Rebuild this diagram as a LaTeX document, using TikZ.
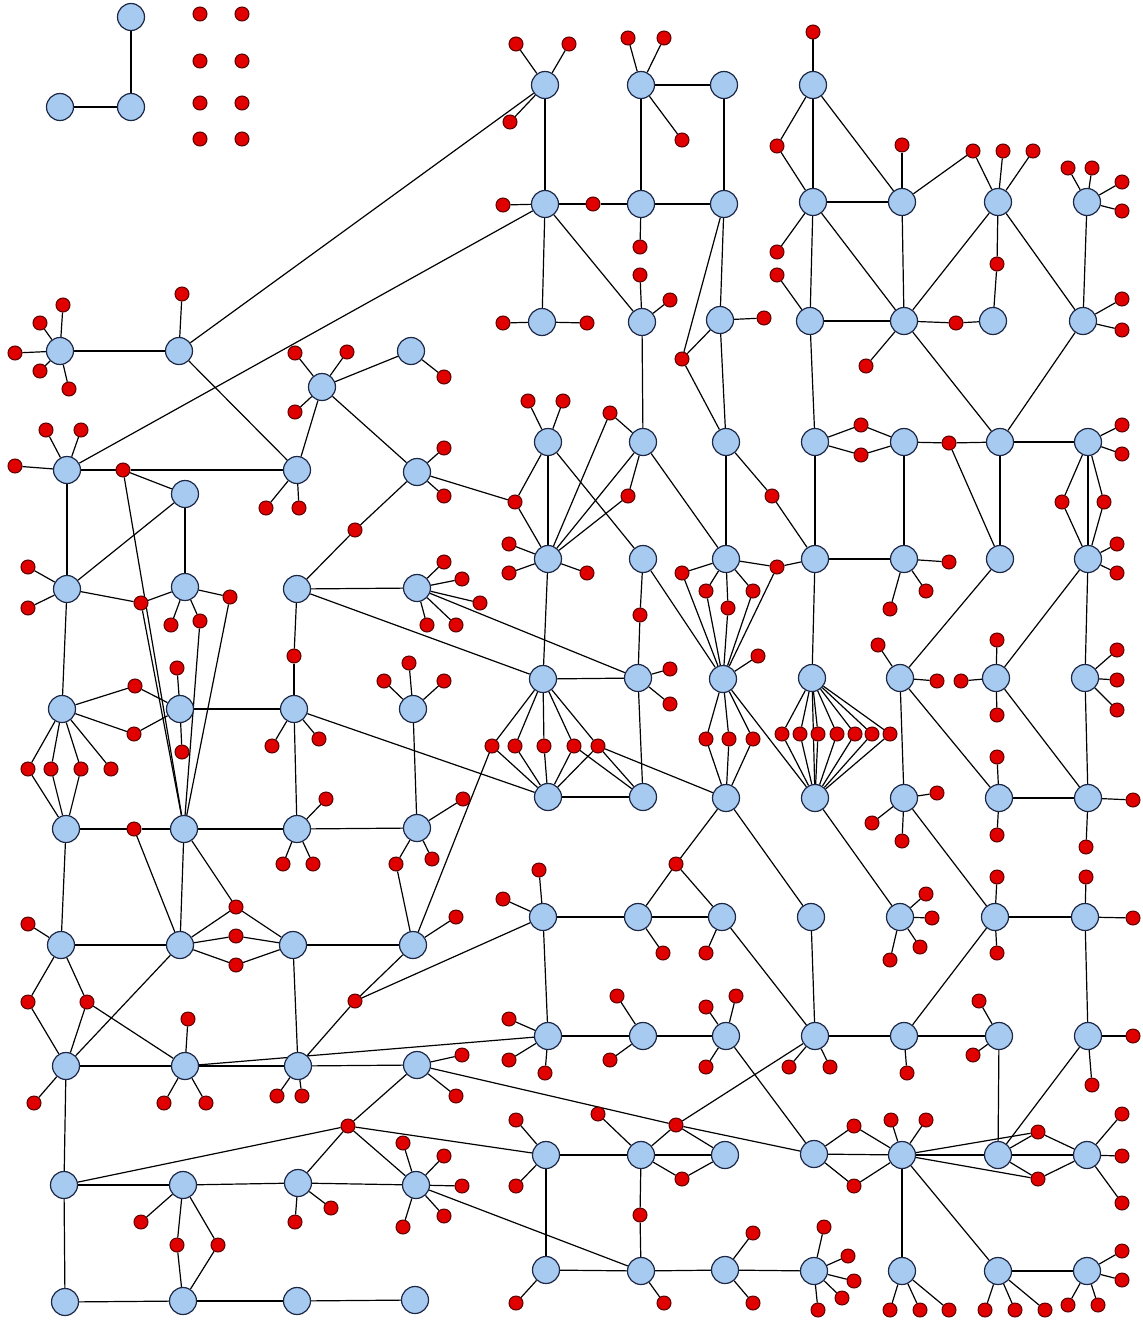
\documentclass[tikz,border=0pt]{standalone}
\definecolor{bfill}{RGB}{166,202,240}
\definecolor{bnd}{RGB}{30,40,70}
\definecolor{rfill}{RGB}{225,0,0}
\definecolor{rnd}{RGB}{90,0,0}
\pgfdeclarelayer{back}
\pgfdeclarelayer{bg}
\pgfsetlayers{back,bg,main}
\tikzset{
 bn/.style={circle,draw=bnd,fill=bfill,line width=0.6pt,minimum size=13.5pt,inner sep=0pt},
 rn/.style={circle,draw=rnd,fill=rfill,line width=0.5pt,minimum size=7pt,inner sep=0pt},
 ed/.style={draw=black,line width=0.6pt}
}
\newcommand\B[3]{\node[bn] (#1) at (#2,#3) {};}
\newcommand\R[3]{\node[rn] (#1) at (#2,#3) {};}
\newcommand\lv[2]{\foreach \x/\y in {#2}{\node[rn] (#1-\x-\y) at (\x,\y) {};
  \begin{pgfonlayer}{bg}\draw[ed] (#1) -- (#1-\x-\y);\end{pgfonlayer}}}
\begin{document}
\begin{tikzpicture}[x=0.5pt,y=-0.5pt]
\begin{pgfonlayer}{back}
\fill[white] (0,0) rectangle (1142,1322);
\end{pgfonlayer}
\useasboundingbox (0,0) rectangle (1142,1322);
% ---------- blue nodes ----------
\B{b1}{131}{17} \B{b2}{131}{107} \B{b3}{60}{107}
\B{La1}{60}{351} \B{Lb1}{179}{351} \B{Lc1}{322}{387} \B{Ld1}{411}{351}
\B{La2}{67}{470} \B{Lb2}{185}{494} \B{Lc2}{297}{470} \B{Ld2}{417}{472}
\B{La3}{67}{589} \B{Lb3}{185}{587} \B{Lc3}{297}{589} \B{Ld3}{417}{588}
\B{La4}{62}{709} \B{Lb4}{180}{709} \B{Lc4}{294}{709} \B{Ld4}{413}{709}
\B{La5}{66}{829} \B{Lb5}{184}{829} \B{Lc5}{297}{829} \B{Ld5}{417}{828}
\B{La6}{61}{945} \B{Lb6}{180}{945} \B{Lc6}{293}{945} \B{Ld6}{413}{945}
\B{La7}{66}{1066} \B{Lb7}{185}{1066} \B{Lc7}{298}{1066} \B{Ld7}{417}{1065}
\B{La8}{64}{1185} \B{Lb8}{183}{1185} \B{Lc8}{298}{1183} \B{Ld8}{416}{1185}
\B{La9}{65}{1302} \B{Lb9}{183}{1301} \B{Lc9}{297}{1301} \B{Ld9}{415}{1300}
\B{Re1}{545}{85} \B{Rf1}{641}{85} \B{Rg1}{724}{85} \B{Rh1}{813}{85}
\B{Re2}{545}{204} \B{Rf2}{641}{204} \B{Rg2}{724}{204} \B{Rh2}{813}{202} \B{Ri2}{902}{202} \B{Rj2}{998}{202} \B{Rk2}{1087}{202}
\B{Re3}{542}{322} \B{Rf3}{642}{322} \B{Rg3}{720}{320} \B{Rh3}{810}{321} \B{Ri3}{904}{321} \B{Rj3}{993}{321} \B{Rk3}{1083}{321}
\B{Re4}{548}{442} \B{Rf4}{643}{442} \B{Rg4}{726}{442} \B{Rh4}{815}{442} \B{Ri4}{904}{442} \B{Rj4}{1000}{442} \B{Rk4}{1088}{442}
\B{Re5}{548}{559} \B{Rf5}{643}{559} \B{Rg5}{726}{559} \B{Rh5}{815}{559} \B{Ri5}{904}{559} \B{Rj5}{1000}{559} \B{Rk5}{1088}{559}
\B{Re6}{543}{679} \B{Rf6}{638}{678} \B{Rg6}{723}{679} \B{Rh6}{812}{678} \B{Ri6}{900}{678} \B{Rj6}{996}{678} \B{Rk6}{1085}{678}
\B{Re7}{548}{797} \B{Rf7}{643}{797} \B{Rg7}{726}{798} \B{Rh7}{815}{798} \B{Ri7}{904}{798} \B{Rj7}{999}{798} \B{Rk7}{1088}{798}
\B{Re8}{543}{917} \B{Rf8}{638}{917} \B{Rg8}{722}{917} \B{Rh8}{811}{917} \B{Ri8}{900}{917} \B{Rj8}{995}{917} \B{Rk8}{1085}{917}
\B{Re9}{548}{1036} \B{Rf9}{643}{1036} \B{Rg9}{726}{1036} \B{Rh9}{815}{1036} \B{Ri9}{904}{1036} \B{Rj9}{999}{1036} \B{Rk9}{1088}{1036}
\B{Re10}{546}{1155} \B{Rf10}{641}{1155} \B{Rg10}{725}{1155} \B{Rh10}{814}{1154} \B{Ri10}{902}{1155} \B{Rj10}{998}{1155} \B{Rk10}{1087}{1155}
\B{Re11}{546}{1270} \B{Rf11}{641}{1271} \B{Rg11}{725}{1270} \B{Rh11}{814}{1271} \B{Ri11}{902}{1271} \B{Rj11}{998}{1271} \B{Rk11}{1087}{1271}
% ---------- isolated red nodes ----------
\R{i1}{200}{14} \R{i2}{242}{14} \R{i3}{200}{61} \R{i4}{242}{61}
\R{i5}{200}{103} \R{i6}{242}{103} \R{i7}{200}{139} \R{i8}{242}{139}
% ---------- shared red nodes ----------
\R{sA}{123}{470} \R{sB}{355}{530} \R{sC}{515}{502} \R{sD}{141}{603}
\R{sE}{200}{621} \R{sF}{230}{597} \R{sG}{294}{656} \R{sH}{135}{686}
\R{sI}{134}{734} \R{sJ}{28}{769} \R{sK}{51}{769} \R{sL}{81}{769}
\R{sM}{134}{829} \R{sN}{236}{907} \R{sO}{396}{864} \R{sP}{28}{1002}
\R{sQ}{87}{1002} \R{sR}{236}{936} \R{sS}{236}{965} \R{sT}{492}{746}
\R{sU}{355}{1001} \R{sV}{348}{1126} \R{sW}{676}{1125} \R{sX}{177}{1245}
\R{sY}{218}{1245}
\R{t1}{777}{146} \R{t2}{593}{204} \R{t3}{682}{359} \R{t4}{973}{151}
\R{t5}{997}{264} \R{t6}{956}{323} \R{t7}{610}{413} \R{t8}{628}{496}
\R{t9}{772}{496} \R{t10}{861}{425} \R{t11}{861}{455} \R{t12}{949}{443}
\R{t13}{1062}{502} \R{t14}{1104}{502} \R{t15}{640}{615}
\R{t16}{682}{573} \R{t17}{706}{591} \R{t18}{728}{608} \R{t19}{753}{591}
\R{t20}{777}{567}
\R{t21}{515}{746} \R{t22}{544}{746} \R{t23}{574}{746} \R{t24}{598}{746}
\R{t25}{706}{739} \R{t26}{729}{739} \R{t27}{753}{739}
\R{h1}{782}{734} \R{h2}{800}{734} \R{h3}{818}{734} \R{h4}{837}{734}
\R{h5}{855}{734} \R{h6}{872}{734} \R{h7}{890}{734}
\R{t28}{676}{864} \R{t29}{682}{1179} \R{t30}{640}{1215}
\R{t31}{854}{1126} \R{t32}{854}{1186} \R{t33}{1038}{1132} \R{t34}{1038}{1179}
% ---------- leaves ----------
\lv{La1}{63/305,40/323,15/353,40/371,69/389}
\lv{Lb1}{182/294}
\lv{Lc1}{295/353,347/352,295/412}
\lv{Ld1}{444/377}
\lv{La2}{46/430,81/430,15/466}
\lv{Lc2}{266/508,299/508}
\lv{Ld2}{444/448,444/496}
\lv{La3}{28/567,28/608}
\lv{Lb3}{171/625}
\lv{Ld3}{444/562,462/579,480/603,427/625,456/625}
\lv{La4}{111/769}
\lv{Lb4}{177/668,182/752}
\lv{Lc4}{272/746,319/739}
\lv{Ld4}{409/663,384/681,444/681}
\lv{Lc5}{326/799,283/864,313/864}
\lv{Ld5}{463/799,432/859}
\lv{La6}{28/924}
\lv{Ld6}{456/917}
\lv{La7}{34/1103}
\lv{Lb7}{188/1019,164/1103,206/1103}
\lv{Lc7}{277/1096,302/1096}
\lv{Ld7}{462/1055,456/1096}
\lv{Lb8}{141/1222}
\lv{Lc8}{295/1222,331/1208}
\lv{Ld8}{403/1143,444/1156,462/1186,444/1216,403/1227}
\lv{Re1}{516/44,569/44,510/122}
\lv{Rf1}{628/38,664/38,682/140}
\lv{Rh1}{813/32}
\lv{Re2}{503/205}
\lv{Rf2}{640/247}
\lv{Rh2}{777/252}
\lv{Ri2}{902/145}
\lv{Rj2}{1003/151,1033/151}
\lv{Rk2}{1068/168,1092/168,1122/182,1122/211}
\lv{Re3}{503/323,587/323}
\lv{Rf3}{640/275,670/300}
\lv{Rg3}{764/318}
\lv{Rh3}{777/275}
\lv{Ri3}{866/366}
\lv{Rk3}{1122/299,1122/330}
\lv{Re4}{528/401,563/401}
\lv{Rk4}{1122/425,1122/454}
\lv{Re5}{509/544,509/573,587/573}
\lv{Ri5}{949/562,926/591,890/609}
\lv{Rk5}{1117/544,1117/573}
\lv{Rf6}{670/669,670/704}
\lv{Rg6}{758/656}
\lv{Ri6}{878/645,937/681}
\lv{Rj6}{961/681,997/640,997/715}
\lv{Rk6}{1117/650,1117/680,1117/710}
\lv{Ri7}{937/793,872/823,902/841}
\lv{Rj7}{997/757,997/835}
\lv{Rk7}{1133/800,1086/847}
\lv{Re8}{539/870,503/899}
\lv{Rf8}{663/953}
\lv{Rg8}{706/953}
\lv{Ri8}{926/894,932/918,920/947,890/960}
\lv{Rj8}{997/877,997/953}
\lv{Rk8}{1086/877,1133/918}
\lv{Re9}{509/1019,509/1060,545/1073}
\lv{Rf9}{617/996,610/1060}
\lv{Rg9}{706/1007,736/996,706/1067}
\lv{Rh9}{789/1067,830/1067}
\lv{Ri9}{907/1073}
\lv{Rj9}{979/1001,973/1055}
\lv{Rk9}{1133/1036,1092/1085}
\lv{Re10}{516/1120,516/1186}
\lv{Rf10}{598/1114}
\lv{Ri10}{891/1120,926/1120}
\lv{Rk10}{1122/1114,1122/1156,1122/1203}
\lv{Re11}{516/1303}
\lv{Rf11}{664/1303}
\lv{Rg11}{753/1233,753/1303}
\lv{Rh11}{824/1227,848/1256,854/1281,842/1298,818/1310}
\lv{Ri11}{890/1310,920/1310,949/1310}
\lv{Rj11}{985/1310,1015/1310,1045/1310}
\lv{Rk11}{1122/1251,1122/1280,1068/1305,1098/1305}
% ---------- connectors ----------
\begin{pgfonlayer}{bg}
\foreach \a/\b in {b1/b2,b3/b2,
 La1/Lb1,Lb1/Re1,Lb1/Lc2,Lc1/Ld1,Lc1/Lc2,Lc1/Ld2,
 La2/sA,sA/Lc2,sA/Lb2,sA/Lb5,La2/Re2,La2/La3,
 Lb2/Lb3,Lb2/La3,
 Ld2/sB,sB/Lc3,Ld2/sC,sC/Re4,sC/Re5,
 La3/sD,sD/Lb3,sD/Lb5,Lb3/sE,sE/Lb5,Lb3/sF,sF/Lb5,La3/La4,
 Lc3/Ld3,Lc3/Re6,Lc3/sG,sG/Lc4,Ld3/Rf6,
 La4/sH,sH/Lb4,La4/sI,sI/Lb4,La4/sJ,La4/sK,La4/sL,sJ/La5,sK/La5,sL/La5,
 Lb4/Lc4,Lc4/Lc5,Lc4/Re7,Ld4/Ld5,
 La5/sM,sM/Lb5,sM/Lb6,La5/La6,
 Lb5/Lc5,Lb5/Lb6,Lb5/sN,sN/Lb6,sN/Lc6,
 Lc5/Ld5,Ld5/sO,sO/Ld6,
 La6/Lb6,La6/sP,sP/La7,La6/sQ,sQ/La7,sQ/Lb7,
 Lb6/sR,sR/Lc6,Lb6/sS,sS/Lc6,Lb6/La7,
 Lc6/Ld6,Lc6/Lc7,Ld6/sT,Ld6/sU,sU/Lc7,sU/Re8,
 La7/Lb7,La7/La8,Lb7/Lc7,Lb7/Re9,Lc7/Ld7,
 Ld7/sV,Ld7/sW,sV/La8,sV/Lc8,sV/Re10,sV/Ld8,
 La8/Lb8,La8/La9,Lb8/sX,sX/Lb9,Lb8/sY,sY/Lb9,Lb8/Lc8,Lc8/Ld8,Ld8/Rf11,
 La9/Lb9,Lb9/Lc9,Lc9/Ld9,
 Re1/Re2,Rf1/Rg1,Rf1/Rf2,Rg1/Rg2,
 Rh1/t1,t1/Rh2,Rh1/Rh2,Rh1/Ri2,
 Re2/t2,t2/Rf2,Re2/Re3,Re2/Rf3,Rf2/Rg2,
 Rg2/Rg3,Rg2/t3,Rg3/t3,t3/Rg4,
 Rh2/Ri2,Rh2/Rh3,Rh2/Ri3,
 Ri2/t4,t4/Rj2,Ri2/Ri3,
 Rj2/t5,t5/Rj3,Rj2/Ri3,Rj2/Rk3,Rk2/Rk3,
 Rf3/Rf4,Rg3/Rg4,
 Rh3/Ri3,Rh3/Rh4,Ri3/t6,t6/Rj3,Ri3/Rj4,Rk3/Rj4,
 Re4/Re5,Re4/Rf5,
 Rf4/t7,t7/Re5,Rf4/t8,t8/Re5,Rf4/Re5,Rf4/Rg5,
 Rg4/Rg5,Rg4/t9,t9/Rh5,
 Rh4/t10,t10/Ri4,Rh4/t11,t11/Ri4,Rh4/Rh5,
 Ri4/t12,t12/Rj4,t12/Rj5,Ri4/Ri5,
 Rj4/Rk4,Rj4/Rj5,
 Rk4/t13,t13/Rk5,Rk4/t14,t14/Rk5,Rk4/Rk5,
 Re5/Re6,
 Rf5/t15,t15/Rf6,Rf5/Rg6,
 Rg5/t16,Rg5/t17,Rg5/t18,Rg5/t19,t16/Rg6,t17/Rg6,t18/Rg6,t19/Rg6,
 Rg5/t20,t20/Rh5,t20/Rg6,
 Rh5/Ri5,Rh5/Rh6,
 Rj5/Ri6,
 Rk5/Rj6,Rk5/Rk6,
 Re6/sT,sT/Re7,Re6/t21,Re6/t22,Re6/t23,Re6/t24,
 t21/Re7,t22/Re7,t23/Re7,t24/Re7,t23/Rf7,t24/Rf7,t24/Rg7,Re6/Rf6,
 Rf6/Rf7,
 Rg6/t25,Rg6/t26,Rg6/t27,t25/Rg7,t26/Rg7,t27/Rg7,Rg6/Rh7,
 Rh6/h1,Rh6/h2,Rh6/h3,Rh6/h4,Rh6/h5,Rh6/h6,Rh6/h7,
 h1/Rh7,h2/Rh7,h3/Rh7,h4/Rh7,h5/Rh7,h6/Rh7,h7/Rh7,Rh6/Rh7,
 Ri6/Ri7,Ri6/Rj7,Rj6/Rk7,Rk6/Rk7,
 Re7/Rf7,
 Rg7/t28,t28/Rf8,t28/Rg8,Rg7/Rh8,
 Rh7/Ri8,Ri7/Rj8,Rj7/Rk7,
 Re8/Rf8,Re8/Re9,Rf8/Rg8,Rg8/Rh9,Rh8/Rh9,
 Rj8/Rk8,Rj8/Ri9,Rk8/Rk9,
 Re9/Rf9,Rf9/Rg9,Rg9/Rh10,
 Rh9/Ri9,sW/Rh9,Ri9/Rj9,Rj9/Rj10,Rk9/Rj10,
 sW/Rf10,sW/Rg10,sW/Rh10,
 Re10/Rf10,Re10/Re11,
 Rf10/t29,t29/Rg10,Rf10/Rg10,Rf10/t30,t30/Rf11,
 Rh10/t31,t31/Ri10,Rh10/t32,t32/Ri10,Rh10/Ri10,
 Ri10/Rj10,Ri10/t33,Ri10/t34,t33/Rj10,t33/Rk10,t34/Rj10,t34/Rk10,Ri10/Ri11,Ri10/Rj11,
 Rj10/Rk10,
 Re11/Rf11,Rf11/Rg11,Rg11/Rh11,Rj11/Rk11}
 {\draw[ed] (\a) -- (\b);}
\end{pgfonlayer}
\end{tikzpicture}
\end{document}
